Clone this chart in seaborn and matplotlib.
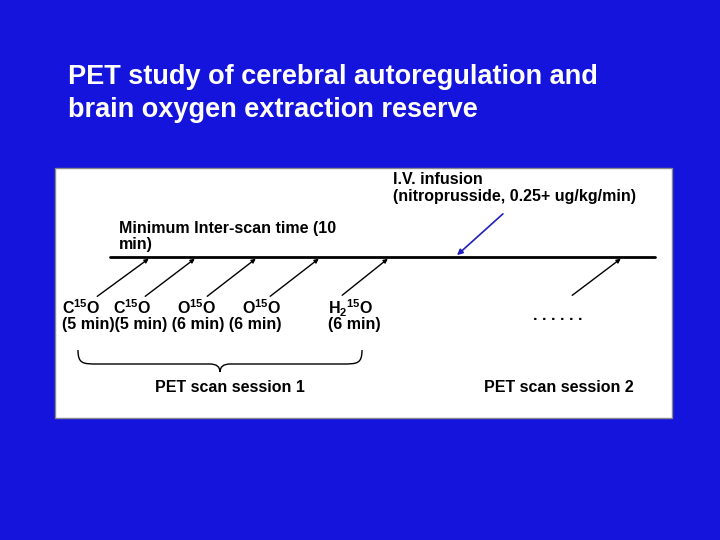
import matplotlib
matplotlib.use("Agg")
import matplotlib.pyplot as plt
import seaborn as sns
from matplotlib.patches import Rectangle, PathPatch
from matplotlib.path import Path

sns.set_style("white")
plt.rcParams['font.family'] = ['Liberation Sans', 'DejaVu Sans']
plt.rcParams['mathtext.fontset'] = 'custom'
plt.rcParams['mathtext.rm'] = 'Liberation Sans:bold'
plt.rcParams['mathtext.it'] = 'Liberation Sans:bold'

title_lines = ["PET study of cerebral autoregulation and", "brain oxygen extraction reserve"]
scan_labels = [r"C$^{15}$O", r"C$^{15}$O", r"O$^{15}$O", r"O$^{15}$O", r"H$_2$$^{15}$O"]
label_x = [62, 113, 177, 242, 328]
durations = "(5 min)(5 min) (6 min) (6 min)"
arrow_head_x = [151, 197, 258, 321, 390, 623]
arrow_tail = [(95, 298), (143, 298), (205, 298), (268, 298), (340, 297), (570, 297)]
infusion_tail = (505, 212)
infusion_head_x = 455
timeline_y = 257

fig = plt.figure(figsize=(7.2, 5.4), dpi=100)
fig.patch.set_facecolor("#1414dc")
ax = fig.add_axes([0, 0, 1, 1])
ax.set_xlim(0, 720); ax.set_ylim(540, 0); ax.axis("off")

ax.text(68, 77, title_lines[0], color="white", fontsize=19.5, fontweight="bold", va="center")
ax.text(68, 110, title_lines[1], color="white", fontsize=19.5, fontweight="bold", va="center")

ax.add_patch(Rectangle((55, 168), 617, 250, facecolor="white", edgecolor="#888888", lw=1))
ax.plot([110, 655], [timeline_y, timeline_y], color="black", lw=2)

for (tx, ty), hx in zip(arrow_tail, arrow_head_x):
    ax.annotate("", xy=(hx, timeline_y), xytext=(tx, ty),
                arrowprops=dict(arrowstyle="-|>", color="black", lw=1, mutation_scale=6))
ax.annotate("", xy=(infusion_head_x, timeline_y), xytext=infusion_tail,
            arrowprops=dict(arrowstyle="-|>", color="#2020c0", lw=1.2, mutation_scale=8))

tk = dict(color="black", fontsize=11.5, va="center", fontweight="bold")
for x, s in zip(label_x, scan_labels):
    ax.text(x, 308, s, **tk)
ax.text(62, 325, durations, **tk)
ax.text(328, 325, "(6 min)", **tk)
ax.text(533, 316, ". . . . . .", **tk)
ax.text(119, 228, "Minimum Inter-scan time (10", **tk)
ax.text(119, 244, "min)", **tk)
ax.text(393, 180, "I.V. infusion", **tk)
ax.text(393, 196, "(nitroprusside, 0.25+ ug/kg/min)", **tk)
ax.text(155, 387, "PET scan session 1", **tk)
ax.text(484, 387, "PET scan session 2", **tk)

# curly brace
x0, x1, xm, yt, yb = 78, 362, 220, 350, 372
verts = [(x0, yt), (x0, yb - 8), (x0 + 5, yb - 8), (x0 + 20, yb - 8),
         (xm - 10, yb - 8), (xm, yb - 8), (xm, yb),
         (xm, yb - 8), (xm + 10, yb - 8), (x1 - 20, yb - 8),
         (x1 - 5, yb - 8), (x1, yb - 8), (x1, yt)]
codes = [Path.MOVETO, Path.CURVE4, Path.CURVE4, Path.CURVE4,
         Path.LINETO, Path.CURVE3, Path.CURVE3,
         Path.CURVE3, Path.CURVE3, Path.LINETO,
         Path.CURVE4, Path.CURVE4, Path.CURVE4]
ax.add_patch(PathPatch(Path(verts, codes), facecolor="none", edgecolor="black", lw=1))

fig.savefig("out.png", dpi=100, facecolor=fig.get_facecolor())
